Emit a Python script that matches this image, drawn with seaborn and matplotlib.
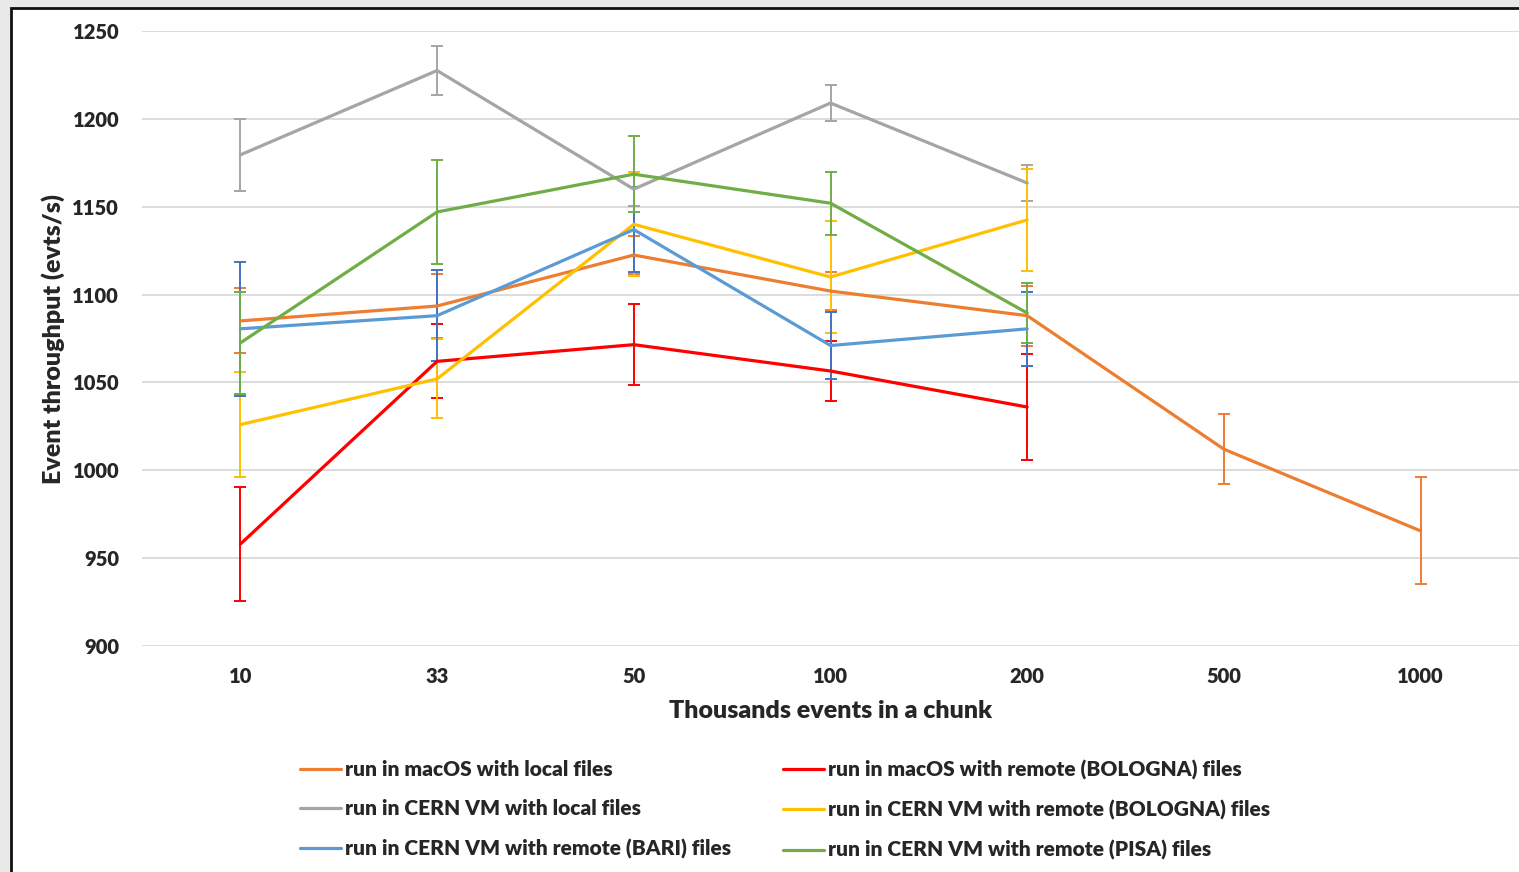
import matplotlib
matplotlib.use("Agg")
import matplotlib.pyplot as plt
import pandas as pd
import seaborn as sns
from matplotlib.patches import Rectangle

chunks = ["10", "33", "50", "100", "200", "500", "1000"]

series_names = [
    "run in macOS with local files",
    "run in macOS with remote (BOLOGNA) files",
    "run in CERN VM with local files",
    "run in CERN VM with remote (BOLOGNA) files",
    "run in CERN VM with remote (BARI) files",
    "run in CERN VM with remote (PISA) files",
]

mac_local = [1085, 1093.5, 1122.5, 1102, 1088, 1012, 965.5]
mac_local_err = [18.5, 18, 11, 11, 17, 20, 30.5]
mac_bologna = [958, 1062, 1071.5, 1056.5, 1036]
mac_bologna_err = [32.5, 21, 23, 17, 30]
vm_local = [1179.5, 1227.5, 1160, 1209, 1163.5]
vm_local_err = [20.5, 14, 9.5, 10.5, 10]
vm_bologna = [1026, 1052, 1140, 1110, 1142.5]
vm_bologna_err = [30, 22.5, 29.5, 32, 29]
vm_bari = [1080.5, 1088, 1137, 1071, 1080.5]
vm_bari_err = [38, 26, 24, 19, 21]
vm_pisa = [1072.5, 1147, 1168.5, 1152, 1089.5]
vm_pisa_err = [29, 29.5, 21.5, 18, 17]

values = [mac_local, mac_bologna, vm_local, vm_bologna, vm_bari, vm_pisa]
errors = [mac_local_err, mac_bologna_err, vm_local_err, vm_bologna_err, vm_bari_err, vm_pisa_err]
line_colors = ["#ED7D31", "#FF0000", "#A5A5A5", "#FFC000", "#5B9BD5", "#70AD47"]
err_colors = ["#ED7D31", "#FF0000", "#A5A5A5", "#FFC000", "#4472C4", "#70AD47"]

rows = []
for name, vals, errs in zip(series_names, values, errors):
    for c, v, e in zip(chunks, vals, errs):
        rows.append({"chunk": c, "throughput": v, "err": e, "series": name})
df = pd.DataFrame(rows)

sns.set_style("white")
plt.rcParams["font.family"] = "Lato"
heavy = 800

fig = plt.figure(figsize=(15.19, 8.72), dpi=100)
fig.patch.set_facecolor("#E8E8E8")
# white chart panel with dark border, cut off at right and bottom like the screenshot
panel = Rectangle((11 / 1519, -0.05), 1.1, 1 - 8 / 872 + 0.05,
                  transform=fig.transFigure, facecolor="white",
                  edgecolor="#111111", linewidth=2, zorder=-5)
fig.patches.append(panel)
ax = fig.add_axes([142 / 1519, 1 - 646 / 872, 1 - 142 / 1519, (646 - 31) / 872])
ax.set_facecolor("none")

sns.lineplot(data=df, x="chunk", y="throughput", hue="series", hue_order=series_names,
             palette=line_colors, sort=False, linewidth=2.3, ax=ax, zorder=3)

for name, col in zip(series_names, err_colors):
    sub = df[df["series"] == name]
    ax.errorbar(sub["chunk"], sub["throughput"], yerr=sub["err"], fmt="none",
                ecolor=col, elinewidth=1.4, capsize=4.5, capthick=1.4, zorder=2)

ax.set_xlim(-0.5, len(chunks) - 0.5)
ax.set_ylim(900, 1250)
ax.set_yticks(range(900, 1251, 50))
ax.grid(axis="y", color="#D9D9D9", linewidth=1.3)
ax.grid(axis="x", visible=False)
for s in ax.spines.values():
    s.set_visible(False)
ax.tick_params(axis="both", length=0, labelsize=14.5)
ax.tick_params(axis="x", pad=15)
ax.tick_params(axis="y", pad=16.5)
for lab in ax.get_xticklabels() + ax.get_yticklabels():
    lab.set_fontweight(heavy)
ax.set_xlabel("Thousands events in a chunk", fontsize=18, fontweight=heavy, labelpad=10.5)
ax.set_ylabel("Event throughput (evts/s)", fontsize=18, fontweight=heavy, labelpad=5)

# legend filled column-first, so reorder to get the row layout of the original
handles, labels = ax.get_legend_handles_labels()
order = [0, 2, 4, 1, 3, 5]
leg = ax.legend([handles[i] for i in order], [labels[i] for i in order], ncol=2,
                loc="upper left", bbox_to_anchor=(0.101, -0.154), frameon=False,
                prop={"weight": heavy, "size": 15}, handlelength=2.0,
                handletextpad=0.15, columnspacing=2.5, labelspacing=0.98)

fig.savefig("out.png", dpi=100, facecolor=fig.get_facecolor())
